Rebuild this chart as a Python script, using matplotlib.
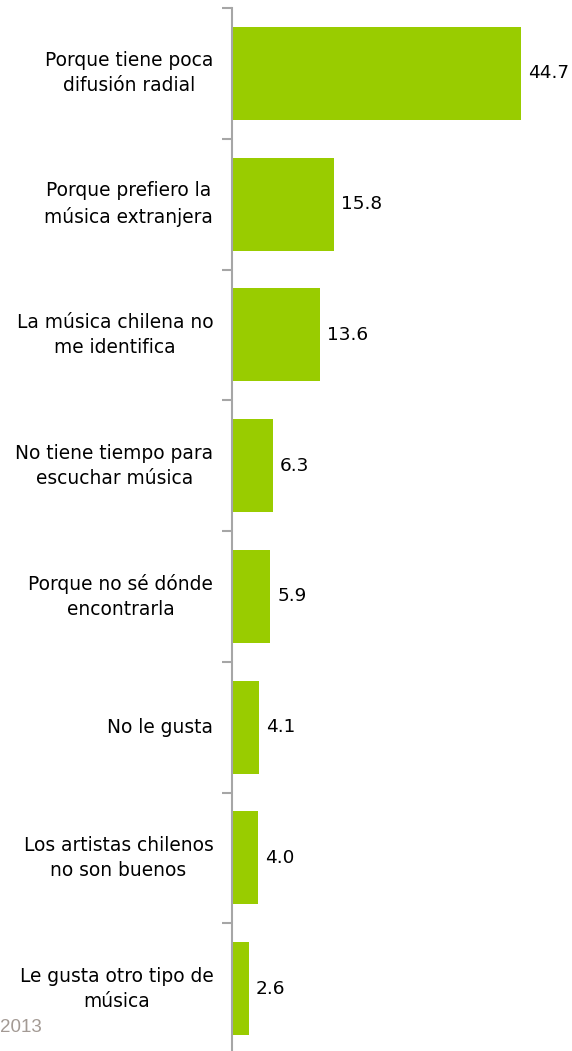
import matplotlib.pyplot as plt
import numpy as np

razones = ['Porque tiene poca\ndifusión radial',
           'Porque prefiero la\nmúsica extranjera',
           'La música chilena no\nme identifica',
           'No tiene tiempo para\nescuchar música',
           'Porque no sé dónde\nencontrarla',
           'No le gusta',
           'Los artistas chilenos\nno son buenos',
           'Le gusta otro tipo de\nmúsica']
valores = [44.7, 15.8, 13.6, 6.3, 5.9, 4.1, 4.0, 2.6]

plt.rcParams['font.family'] = ['DejaVu Sans']

fig = plt.figure(figsize=(5.72, 10.51), dpi=100)
ax = fig.add_axes([232 / 572, -3 / 1051, 340 / 572, 1046 / 1051])

y = np.arange(len(valores))
ax.barh(y, valores, height=0.71, color='#99CC00', zorder=2)
ax.set_ylim(len(valores) - 0.5, -0.5)
ax.set_xlim(0, 52.6)

for yi, v in zip(y, valores):
    ax.text(v + 1.1, yi, f'{v:.1f}', va='center', ha='left', fontsize=13.3, color='black')

for yi, lab in zip(y, razones):
    ax.text(-2.9, yi, lab, va='center', ha='right', multialignment='center',
            fontsize=13.4, color='black', linespacing=1.4)

for s in ['top', 'right', 'bottom']:
    ax.spines[s].set_visible(False)
ax.spines['left'].set_color('#A6A6A6')
ax.spines['left'].set_linewidth(1.5)
ax.spines['left'].set_zorder(3)
ax.set_xticks([])
ax.set_yticks(np.arange(len(valores) + 1) - 0.5)
ax.set_yticklabels([])
ax.tick_params(axis='y', length=7, width=1.5, color='#A6A6A6', direction='out')

fig.text(0, 1 - 1028 / 1051, '2013', ha='left', va='center',
         fontsize=13.5, color='#A39A94', family='Liberation Sans')

fig.savefig('out.png', dpi=100)
